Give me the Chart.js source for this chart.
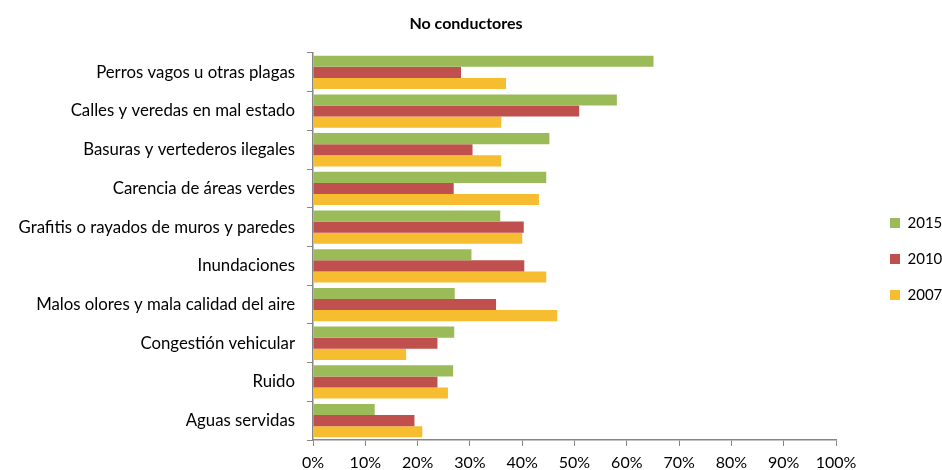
<!DOCTYPE html>
<html>
<head>
<meta charset="utf-8">
<script src="https://cdn.jsdelivr.net/npm/chart.js@4/dist/chart.umd.min.js"></script>
<style>
html,body{margin:0;padding:0;background:#fff;}
#wrap{width:942px;height:470px;position:relative;}
</style>
</head>
<body>
<div id="wrap"><canvas id="c" width="942" height="470"></canvas></div>
<script>
const categories = [
  "Perros vagos u otras plagas",
  "Calles y veredas en mal estado",
  "Basuras y vertederos ilegales",
  "Carencia de áreas verdes",
  "Grafitis o rayados de muros y paredes",
  "Inundaciones",
  "Malos olores y mala calidad del aire",
  "Congestión vehicular",
  "Ruido",
  "Aguas servidas"
];
const seriesNames = ["2015", "2010", "2007"];
const values2015 = [65.1, 58.1, 45.2, 44.6, 35.8, 30.3, 27.1, 27.0, 26.8, 11.8];
const values2010 = [28.3, 50.9, 30.5, 26.9, 40.3, 40.4, 35.0, 23.8, 23.8, 19.4];
const values2007 = [36.9, 36.0, 36.0, 43.2, 40.0, 44.6, 46.7, 17.8, 25.8, 20.9];
const xTickValues = [0, 10, 20, 30, 40, 50, 60, 70, 80, 90, 100];
const titleText = "No conductores";

const colors = ["#9BBB59", "#C0504D", "#F6BD31"];
const FONT = "Lato, 'Liberation Sans', sans-serif";
const axisColor = "#868686";

const legendShift = {
  id: "legendShift",
  afterLayout(chart) {
    const lg = chart.legend;
    if (!lg) return;
    const dx = 33, dy = 24;
    lg.left += dx; lg.right += dx;
    lg.top += dy; lg.bottom += dy;
  }
};

new Chart(document.getElementById("c"), {
  type: "bar",
  data: {
    labels: categories,
    datasets: [
      {label: seriesNames[0], data: values2015, backgroundColor: colors[0]},
      {label: seriesNames[1], data: values2010, backgroundColor: colors[1]},
      {label: seriesNames[2], data: values2007, backgroundColor: colors[2]}
    ]
  },
  plugins: [legendShift],
  options: {
    indexAxis: "y",
    responsive: false,
    animation: false,
    devicePixelRatio: 1,
    layout: {padding: {top: 0, left: 0, right: 10, bottom: 0}},
    datasets: {bar: {categoryPercentage: 0.86, barPercentage: 1.0}},
    scales: {
      x: {
        min: 0, max: 100,
        afterBuildTicks: (s) => { s.ticks = xTickValues.map(v => ({value: v})); },
        ticks: {
          callback: (v) => v + "%",
          color: "#000", font: {family: FONT, size: 16}, padding: 7,
          maxRotation: 0, autoSkip: false
        },
        grid: {display: true, drawOnChartArea: false, drawTicks: true, tickLength: 6, color: axisColor, lineWidth: 1},
        border: {display: true, color: axisColor, width: 1.5},
        afterFit: (s) => { s.height = 30; s.paddingRight = 106; }
      },
      y: {
        ticks: {color: "#000", font: {family: FONT, size: 16.8}, padding: 12, autoSkip: false},
        grid: {display: true, drawOnChartArea: false, drawTicks: true, tickLength: 6, color: axisColor, lineWidth: 1, offset: true},
        border: {display: true, color: axisColor, width: 1.5},
        afterFit: (s) => { s.width = 313; }
      }
    },
    plugins: {
      title: {
        display: true, text: titleText, color: "#000",
        font: {family: FONT, size: 16, weight: "bold"},
        padding: {top: 14, bottom: 19.8}
      },
      legend: {
        position: "right",
        labels: {
          boxWidth: 10, boxHeight: 10, padding: 21, color: "#000",
          font: {family: FONT, size: 15}
        }
      },
      tooltip: {enabled: false}
    }
  }
});
</script>
</body>
</html>
